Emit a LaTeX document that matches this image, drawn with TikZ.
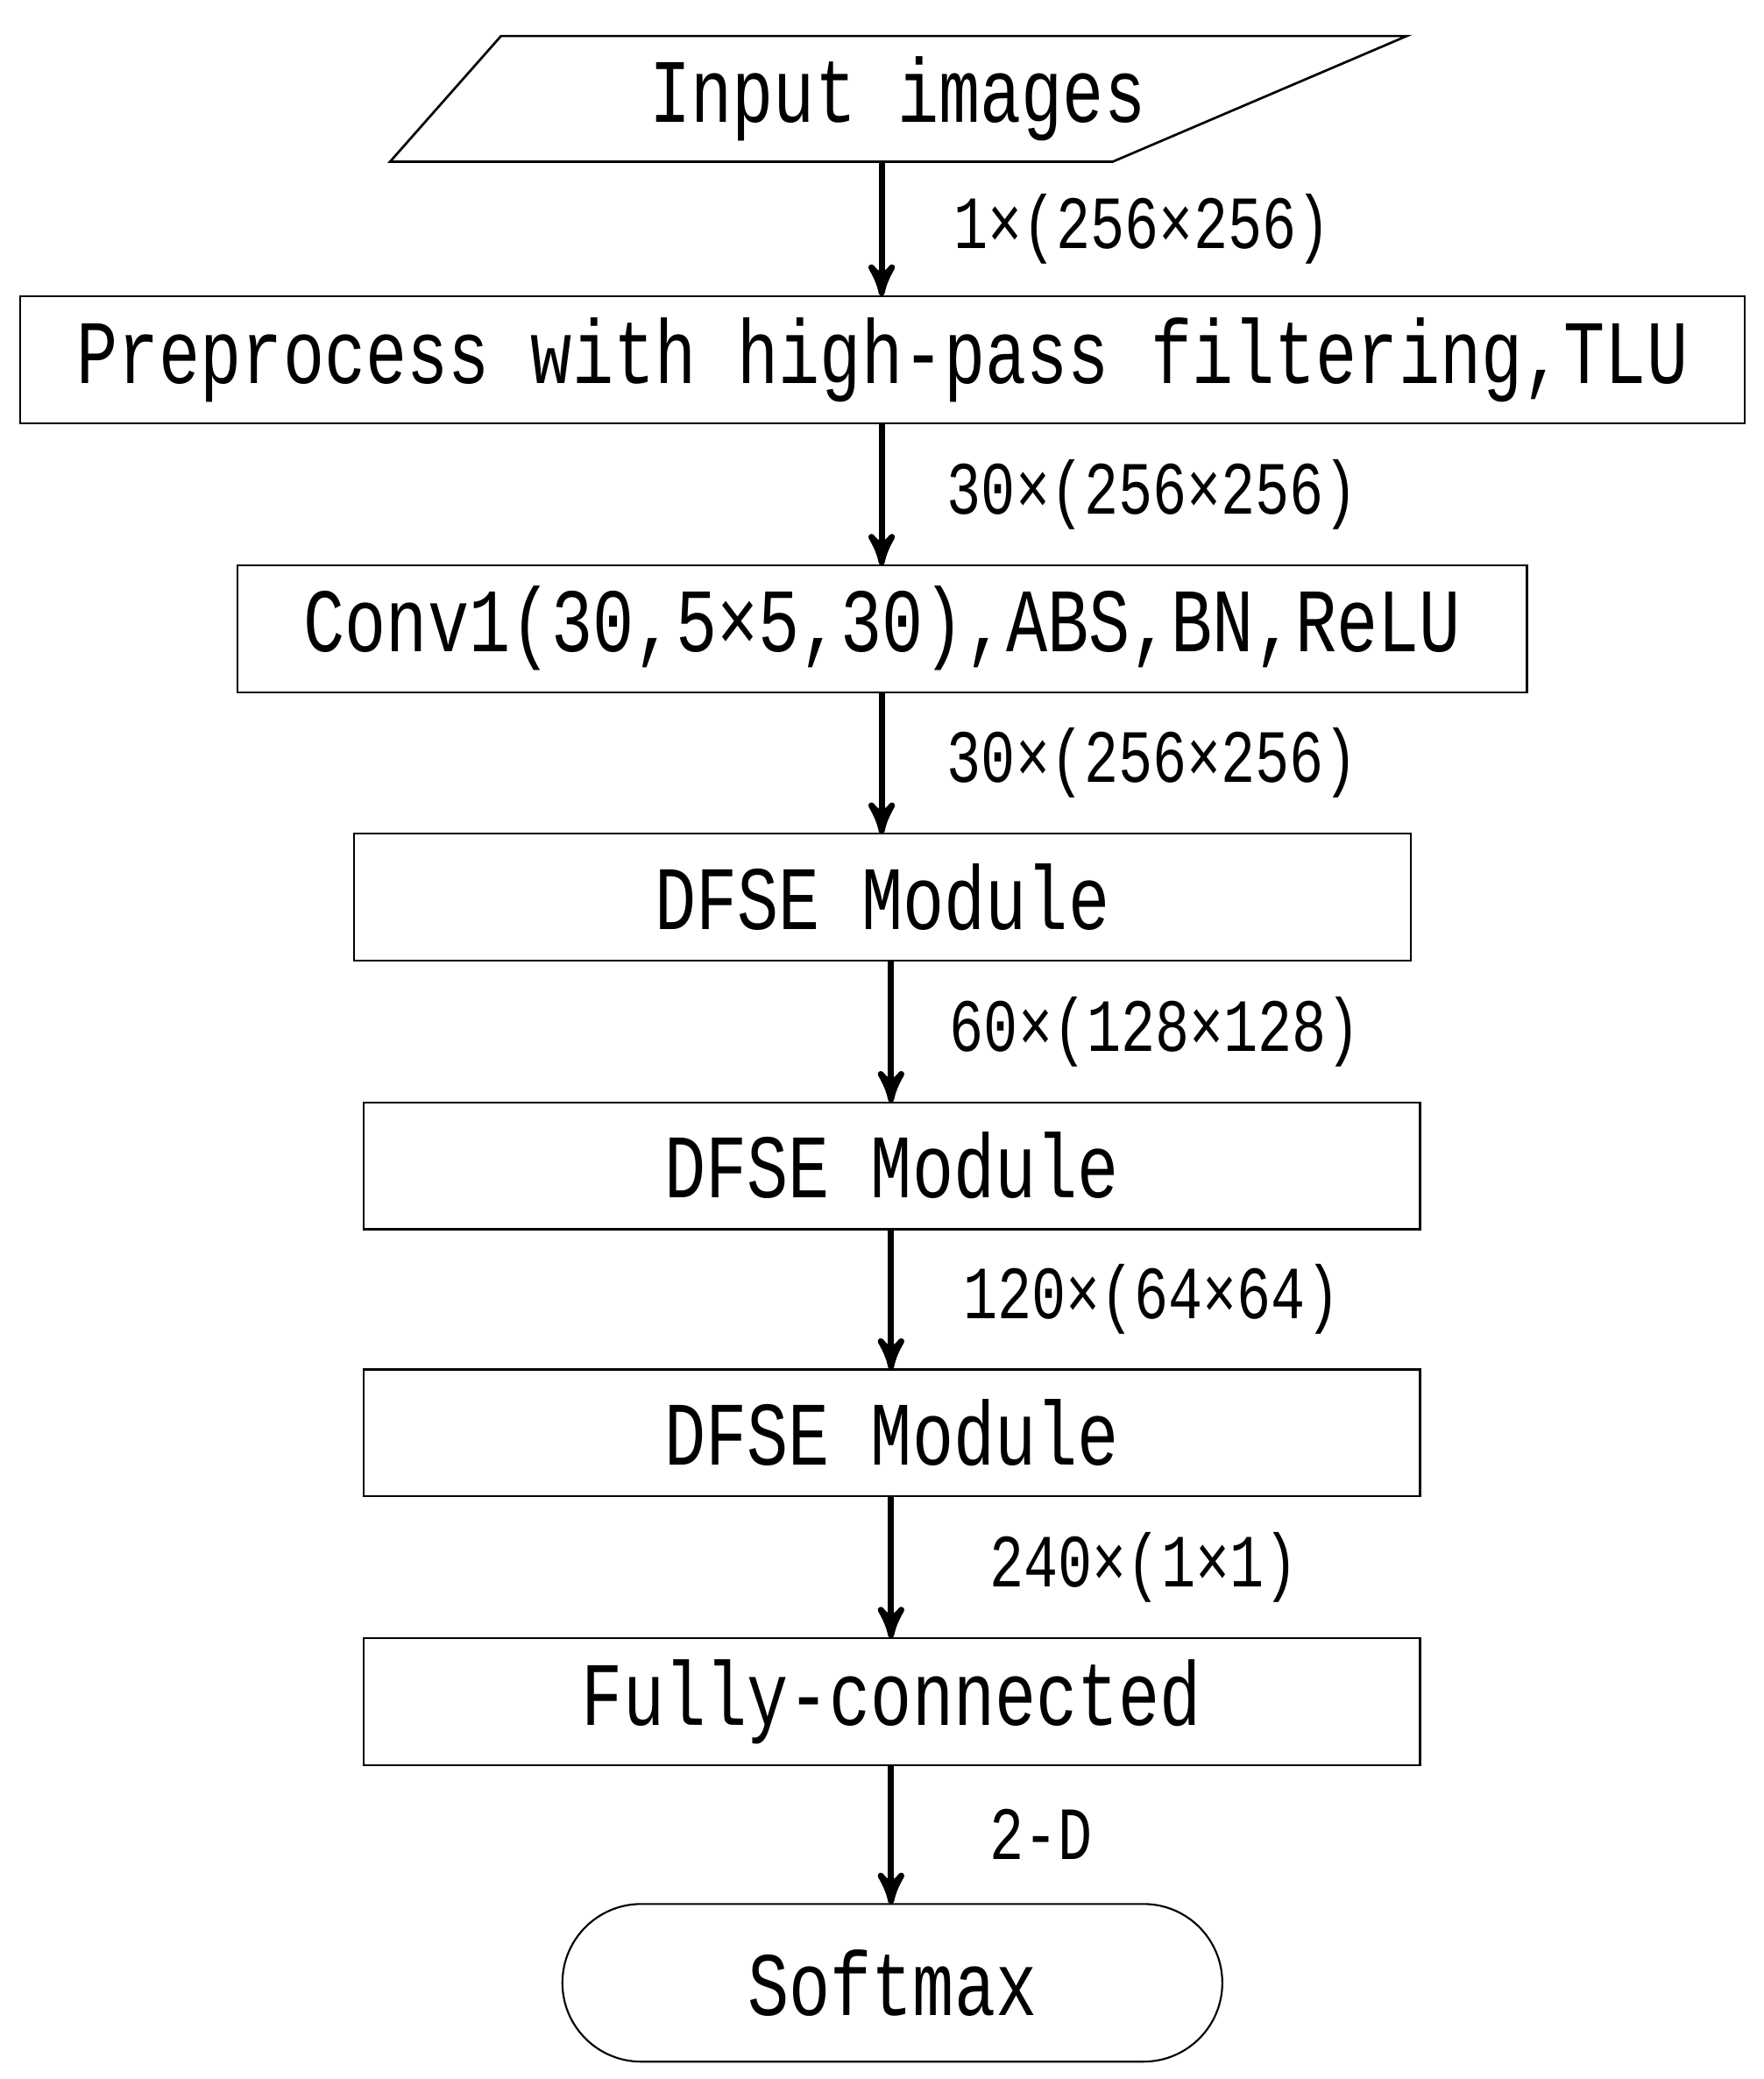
\documentclass[tikz,border=0pt]{standalone}
\usepackage{fontspec}
\setmainfont{Liberation Mono}[FakeStretch=0.76]
\usetikzlibrary{positioning,arrows,shapes}

\tikzset{
    block/.style={draw, rectangle, minimum height=0.95cm, font=\fontsize{19.3}{22}\selectfont},
    dim/.style={font=\fontsize{16}{19}\selectfont, anchor=center},
    flow/.style={->, >=stealth', line width=1.3pt}
}

\begin{document}
\begin{tikzpicture}[yscale=-1]
    \useasboundingbox (0,0) rectangle (13.2,15.56);
    % input
    \draw[line width=0.5pt] (3.75,0.27) -- (10.53,0.27) -- (8.33,1.21) -- (2.92,1.21) -- cycle;
    \node[font=\fontsize{19.3}{22}\selectfont] (input) at (6.72,0.74) {Input images};
    \coordinate (in) at (6.60,1.21);
    % layers
    \node[block, minimum width=12.91cm] (pre) at (6.605,2.695) {Preprocess with high-pass filtering,TLU};
    \node[block, minimum width=9.65cm] (conv) at (6.605,4.705) {Conv1(30,5×5,30),ABS,BN,ReLU};
    \node[block, minimum width=7.91cm] (dfse1) at (6.605,6.715) {DFSE Module};
    \node[block, minimum width=7.91cm] (dfse2) at (6.675,8.725) {DFSE Module};
    \node[block, minimum width=7.91cm] (dfse3) at (6.675,10.725) {DFSE Module};
    \node[block, minimum width=7.91cm] (fc) at (6.675,12.735) {Fully-connected};
    \node[block, rounded corners=0.59cm, minimum width=4.94cm, minimum height=1.18cm] (soft) at (6.68,14.84) {Softmax};
    % arrows
    \draw[flow] (in) -- (in |- pre.north) node[dim, midway, right=0.4cm] {1×(256×256)};
    \draw[flow] (6.60,3.17) -- (6.60,4.23) node[dim, midway, right=0.35cm] {30×(256×256)};
    \draw[flow] (6.60,5.18) -- (6.60,6.24) node[dim, midway, right=0.35cm] {30×(256×256)};
    \draw[flow] (6.67,7.19) -- (6.67,8.25) node[dim, midway, right=0.3cm] {60×(128×128)};
    \draw[flow] (6.67,9.20) -- (6.67,10.25) node[dim, midway, right=0.4cm] {120×(64×64)};
    \draw[flow] (6.67,11.20) -- (6.67,12.26) node[dim, midway, right=0.6cm] {240×(1×1)};
    \draw[flow] (6.67,13.21) -- (6.67,14.25) node[dim, midway, right=0.6cm] {2-D};
\end{tikzpicture}
\end{document}
